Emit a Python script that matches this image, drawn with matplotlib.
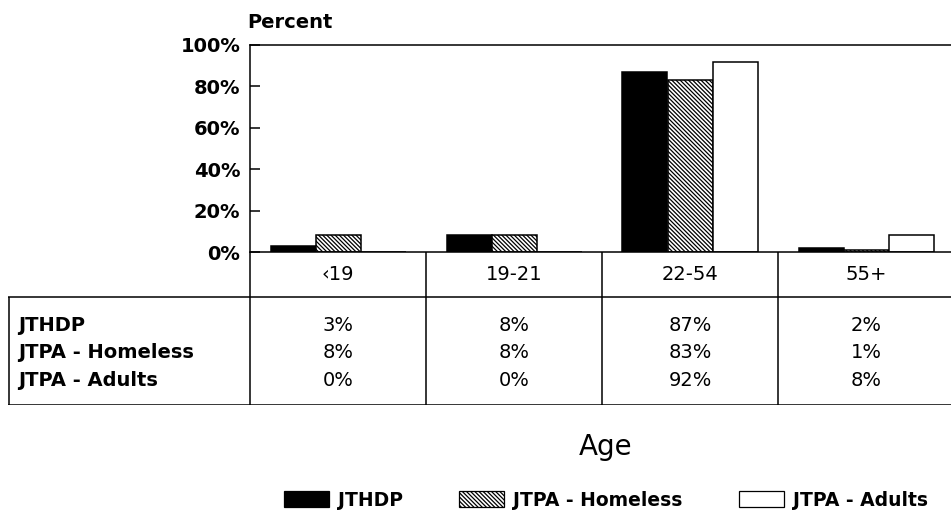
import numpy as np
import matplotlib.pyplot as plt
from matplotlib.patches import Patch

age_groups = ['‹19', '19-21', '22-54', '55+']
series = ['JTHDP', 'JTPA - Homeless', 'JTPA - Adults']
jthdp = [3, 8, 87, 2]
jtpa_homeless = [8, 8, 83, 1]
jtpa_adults = [0, 0, 92, 8]
yticks = [0, 20, 40, 60, 80, 100]

values = [jthdp, jtpa_homeless, jtpa_adults]
faces = ['black', 'white', 'white']
hatches = [None, '\\' * 8, None]

W, H = 951, 518
plt.rcParams['font.family'] = ['DejaVu Sans']
plt.rcParams['hatch.linewidth'] = 0.9
fig = plt.figure(figsize=(W / 100, H / 100), dpi=100)

# pixel layout
x0, x1 = 250, 954          # bar area left/right (right edge runs off the page)
y_top, y_zero = 45, 252
y_tab_bot = 405
tab_left = 8
unit = (x1 - x0) / len(age_groups)
fs = 14

ax = fig.add_axes([x0 / W, 1 - y_zero / H, (x1 - x0) / W, (y_zero - y_top) / H])
x = np.arange(len(age_groups)) + 0.5
bw = 45 / unit
for k, (vals, fc, h) in enumerate(zip(values, faces, hatches)):
    ax.bar(x + (k - 1) * bw, vals, width=bw, color=fc, edgecolor='black',
           linewidth=1.1, hatch=h, label=series[k])
ax.set_xlim(0, len(age_groups))
ax.set_ylim(0, 100)
ax.set_yticks(yticks)
ax.set_yticklabels([f'{v}%' for v in yticks], fontsize=fs, fontweight='bold')
ax.tick_params(axis='y', direction='in', length=7, width=1.1, pad=7)
ax.set_xticks([])
ax.spines['right'].set_visible(False)
for s in ['left', 'top', 'bottom']:
    ax.spines[s].set_linewidth(1.1)
fig.text(247 / W, 1 - 23 / H, 'Percent', fontsize=fs, fontweight='bold',
         ha='left', va='center')

# table under the bars, same x scale as the bar axes
tx0 = -(x0 - tab_left) / unit
tax = fig.add_axes([tab_left / W, 1 - y_tab_bot / H, (x1 - tab_left) / W,
                    (y_tab_bot - y_zero) / H])
tax.set_xlim(tx0, len(age_groups))
tax.set_ylim(y_tab_bot, y_zero)
tax.axis('off')
lw = 1.1
for i in range(len(age_groups)):
    tax.vlines(i, y_zero, y_tab_bot, color='black', lw=lw)
tax.vlines(tx0 + 0.003, 297, y_tab_bot, color='black', lw=lw)
tax.hlines([297, y_tab_bot - 0.5], tx0, len(age_groups), color='black', lw=lw)
for i, g in enumerate(age_groups):
    tax.text(i + 0.5, 275, g, ha='center', va='center', fontsize=fs)
row_y = [325, 352, 380]
for name, vals, yy in zip(series, values, row_y):
    tax.text(tx0 + 10 / unit, yy, name, ha='left', va='center',
             fontsize=fs, fontweight='bold')
    for i, v in enumerate(vals):
        tax.text(i + 0.5, yy, f'{v}%', ha='center', va='center', fontsize=fs)

fig.text(606 / W, 1 - 447 / H, 'Age', fontsize=20, ha='center', va='center')

handles = [Patch(facecolor=fc, edgecolor='black', hatch=h, linewidth=0.9)
           for fc, h in zip(faces, hatches)]
fig.legend(handles, series, loc='center', bbox_to_anchor=(606 / W, 1 - 500 / H),
           ncol=3, frameon=False, handlelength=2.4, handleheight=0.9,
           handletextpad=0.5, columnspacing=3.0,
           prop={'weight': 'bold', 'size': 13.5})

fig.savefig('out.png', dpi=100)
